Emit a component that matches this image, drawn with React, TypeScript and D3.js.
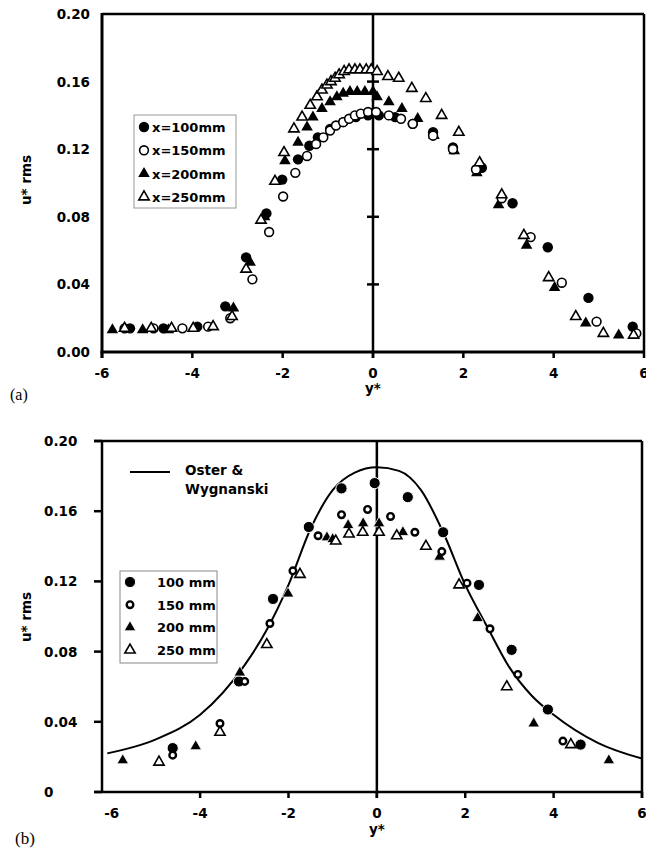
import React, { useEffect, useRef } from 'react';
import * as d3 from 'd3';

type Pt = [number, number]; // [y*, u*rms]

// ---- panel (a) ----
const a100: Pt[] = [
  [-5.38, 0.014], [-4.64, 0.014], [-3.89, 0.015], [-3.27, 0.027], [-2.81, 0.056], [-2.36, 0.082],
  [-2.01, 0.102], [-1.66, 0.114], [-1.41, 0.122], [-1.22, 0.127], [-0.95, 0.132], [-0.66, 0.136],
  [-0.38, 0.139], [-0.11, 0.140], [0.13, 0.140], [0.49, 0.139], [0.88, 0.135], [1.33, 0.130],
  [1.77, 0.121], [2.41, 0.109], [3.09, 0.088], [3.87, 0.062], [4.77, 0.032], [5.75, 0.015],
];
const a150: Pt[] = [
  [-5.5, 0.014], [-4.86, 0.014], [-4.22, 0.014], [-3.65, 0.015], [-3.16, 0.020], [-2.67, 0.043],
  [-2.30, 0.071], [-1.99, 0.092], [-1.72, 0.106], [-1.46, 0.116], [-1.26, 0.123], [-1.10, 0.127],
  [-0.95, 0.131], [-0.82, 0.134], [-0.66, 0.136], [-0.53, 0.138], [-0.40, 0.140], [-0.27, 0.141],
  [-0.11, 0.142], [0.07, 0.142], [0.35, 0.140], [0.62, 0.138], [0.88, 0.135], [1.33, 0.128],
  [1.77, 0.120], [2.28, 0.108], [2.85, 0.091], [3.49, 0.068], [4.18, 0.041], [4.95, 0.018], [5.83, 0.011],
];
const a200: Pt[] = [
  [-5.77, 0.013], [-5.10, 0.013], [-4.53, 0.013], [-3.09, 0.026], [-2.72, 0.053], [-2.40, 0.080],
  [-1.95, 0.113], [-1.66, 0.124], [-1.46, 0.133], [-1.33, 0.139], [-1.13, 0.144], [-0.95, 0.148],
  [-0.80, 0.151], [-0.66, 0.153], [-0.51, 0.154], [-0.35, 0.154], [-0.18, 0.154], [0.0, 0.154],
  [0.09, 0.151], [0.35, 0.148], [0.64, 0.144], [0.99, 0.138], [1.35, 0.128], [1.80, 0.119],
  [2.30, 0.106], [2.78, 0.087], [3.40, 0.063], [4.02, 0.038], [4.71, 0.017], [5.44, 0.010],
];
const a250: Pt[] = [
  [-5.50, 0.014], [-4.91, 0.014], [-4.46, 0.014], [-3.98, 0.014], [-3.54, 0.015], [-3.12, 0.021],
  [-2.81, 0.049], [-2.48, 0.078], [-2.17, 0.101], [-1.97, 0.118], [-1.75, 0.132], [-1.57, 0.139],
  [-1.39, 0.146], [-1.24, 0.151], [-1.13, 0.155], [-1.02, 0.158], [-0.93, 0.160], [-0.84, 0.162],
  [-0.75, 0.164], [-0.64, 0.166], [-0.53, 0.167], [-0.40, 0.167], [-0.29, 0.167], [-0.15, 0.167],
  [-0.04, 0.167], [0.09, 0.166], [0.33, 0.163], [0.57, 0.162], [0.86, 0.156], [1.17, 0.150],
  [1.52, 0.140], [1.90, 0.130], [2.36, 0.112], [2.85, 0.093], [3.34, 0.069], [3.89, 0.044],
  [4.49, 0.021], [5.10, 0.011], [5.77, 0.010],
];

// ---- panel (b) ----
const b100: Pt[] = [
  [-4.62, 0.025], [-3.12, 0.063], [-2.35, 0.110], [-1.54, 0.151], [-0.80, 0.173], [-0.05, 0.176],
  [0.70, 0.168], [1.50, 0.148], [2.31, 0.118], [3.05, 0.081], [3.87, 0.047], [4.61, 0.027],
];
const b150: Pt[] = [
  [-4.62, 0.021], [-3.55, 0.039], [-2.99, 0.063], [-2.42, 0.096], [-1.90, 0.126], [-1.33, 0.146],
  [-0.80, 0.158], [-0.21, 0.161], [0.31, 0.157], [0.86, 0.148], [1.47, 0.137], [2.04, 0.119],
  [2.56, 0.093], [3.19, 0.067], [4.21, 0.029],
];
const b200: Pt[] = [
  [-5.75, 0.018], [-4.10, 0.026], [-3.10, 0.068], [-2.01, 0.113], [-1.13, 0.145], [-1.00, 0.144],
  [-0.65, 0.152], [-0.31, 0.153], [0.05, 0.153], [0.59, 0.148], [1.42, 0.134], [2.28, 0.099],
  [3.55, 0.039], [5.25, 0.018],
];
const b250: Pt[] = [
  [-4.93, 0.017], [-3.55, 0.034], [-2.49, 0.084], [-1.74, 0.124], [-0.93, 0.143], [-0.63, 0.147],
  [-0.32, 0.148], [0.05, 0.148], [0.45, 0.146], [1.11, 0.140], [1.86, 0.118], [2.94, 0.060], [4.39, 0.027],
];
// Oster & Wygnanski curve
const oster: Pt[] = [
  [-6.1, 0.022], [-5, 0.030], [-4, 0.044], [-3, 0.072], [-2.5, 0.092], [-2, 0.118], [-1.5, 0.150],
  [-1, 0.172], [-0.5, 0.182], [0, 0.185], [0.5, 0.183], [1, 0.172], [1.5, 0.148], [2, 0.118],
  [2.5, 0.094], [3, 0.071], [3.5, 0.055], [4, 0.044], [5, 0.028], [6, 0.019],
];

const xTicks = [-6, -4, -2, 0, 2, 4, 6];
const yTicks = [0, 0.04, 0.08, 0.12, 0.16, 0.2];
const yLabelsA = ['0.00', '0.04', '0.08', '0.12', '0.16', '0.20'];
const yLabelsB = ['0', '0.04', '0.08', '0.12', '0.16', '0.20'];
const legendA = ['x=100mm', 'x=150mm', 'x=200mm', 'x=250mm'];
const legendB = ['100 mm', '150 mm', '200 mm', '250 mm'];
const kinds = ['dot', 'circle', 'tri', 'otri'];

const FONT = "'DejaVu Sans', Verdana, sans-serif";
const FS = 13.5;

type G = d3.Selection<SVGGElement, unknown, null, undefined>;

// one marker glyph; small = panel (b) style open circle
function glyph(g: G, kind: string, cx: number, cy: number, small: boolean) {
  const t = `translate(${cx},${cy})`;
  if (kind === 'dot') {
    g.append('circle').attr('cx', cx).attr('cy', cy).attr('r', small ? 5.6 : 5.2)
      .attr('fill', '#000').attr('stroke', small ? '#fff' : 'none').attr('stroke-width', 1);
  } else if (kind === 'circle') {
    g.append('circle').attr('cx', cx).attr('cy', cy).attr('r', small ? 3.3 : 4.4)
      .attr('fill', '#fff').attr('stroke', '#000').attr('stroke-width', small ? 2.4 : 1.6);
  } else if (kind === 'tri') {
    g.append('path').attr('transform', t).attr('d', d3.symbol(d3.symbolTriangle, 58)())
      .attr('fill', '#000').attr('stroke', small ? '#fff' : 'none').attr('stroke-width', 0.8);
  } else {
    g.append('path').attr('transform', t).attr('d', d3.symbol(d3.symbolTriangle, 46)())
      .attr('fill', '#fff').attr('stroke', '#000').attr('stroke-width', 1.6);
  }
}

const App: React.FC = () => {
  const ref = useRef<SVGSVGElement | null>(null);

  useEffect(() => {
    const svg = d3.select(ref.current);
    svg.selectAll('*').remove();
    const root = svg.append('g') as unknown as G;

    // ================= panel (a) =================
    const xa = d3.scaleLinear().domain([-6, 6]).range([102, 644]);
    const ya = d3.scaleLinear().domain([0, 0.2]).range([352, 14]);
    const ga = root.append('g');

    // y tick labels (right aligned)
    yTicks.forEach((v, i) => {
      ga.append('text').attr('x', 90).attr('y', ya(v) + 5).attr('text-anchor', 'end')
        .attr('font-family', FONT).attr('font-weight', 'bold').attr('font-size', FS)
        .text(yLabelsA[i]);
    });
    // x ticks + labels
    xTicks.forEach((v) => {
      ga.append('line').attr('x1', xa(v)).attr('x2', xa(v)).attr('y1', 352).attr('y2', 358)
        .attr('stroke', '#000').attr('stroke-width', 2.5);
      ga.append('text').attr('x', xa(v)).attr('y', 378).attr('text-anchor', 'middle')
        .attr('font-family', FONT).attr('font-weight', 'bold').attr('font-size', FS)
        .text(String(v));
    });
    // frame
    ga.append('line').attr('x1', 102).attr('x2', 644).attr('y1', 14).attr('y2', 14)
      .attr('stroke', '#000').attr('stroke-width', 2.5);
    ga.append('line').attr('x1', 644).attr('x2', 644).attr('y1', 14).attr('y2', 352)
      .attr('stroke', '#000').attr('stroke-width', 2.5);
    ga.append('line').attr('x1', 102).attr('x2', 102).attr('y1', 13).attr('y2', 358)
      .attr('stroke', '#000').attr('stroke-width', 3);
    ga.append('line').attr('x1', 100.5).attr('x2', 645).attr('y1', 352).attr('y2', 352)
      .attr('stroke', '#000').attr('stroke-width', 3);
    // zero line with cross ticks
    ga.append('line').attr('x1', xa(0)).attr('x2', xa(0)).attr('y1', 14).attr('y2', 358)
      .attr('stroke', '#000').attr('stroke-width', 2.5);
    yTicks.slice(1, 5).forEach((v) => {
      ga.append('line').attr('x1', xa(0) - 6).attr('x2', xa(0) + 6).attr('y1', ya(v)).attr('y2', ya(v))
        .attr('stroke', '#000').attr('stroke-width', 2.5);
    });

    // data
    const marksA = ga.append('g') as unknown as G;
    [a100, a200, a150, a250].forEach((s, i) => {
      const k = ['dot', 'tri', 'circle', 'otri'][i];
      s.forEach((d) => glyph(marksA, k, xa(d[0]), ya(d[1]), false));
    });

    // legend (a)
    ga.append('rect').attr('x', 134).attr('y', 115).attr('width', 102).attr('height', 93)
      .attr('fill', '#fff').attr('stroke', '#999').attr('stroke-width', 1);
    const legA = ga.append('g') as unknown as G;
    legendA.forEach((name, i) => {
      const cy = 127 + i * 23.3;
      glyph(legA, kinds[i], 144, cy, false);
      legA.append('text').attr('x', 152).attr('y', cy + 5)
        .attr('font-family', FONT).attr('font-weight', 'bold').attr('font-size', 13).text(name);
    });

    // titles
    ga.append('text').attr('transform', 'translate(31,180) rotate(-90)').attr('text-anchor', 'middle')
      .attr('font-family', FONT).attr('font-weight', 'bold').attr('font-size', FS).text('u* rms');
    ga.append('text').attr('x', xa(0)).attr('y', 393).attr('text-anchor', 'middle')
      .attr('font-family', FONT).attr('font-weight', 'bold').attr('font-size', FS).text('y*');
    ga.append('text').attr('x', 10).attr('y', 400)
      .attr('font-family', "'Liberation Serif', 'Times New Roman', serif").attr('font-size', 16).text('(a)');

    // ================= panel (b) =================
    const xb = d3.scaleLinear().domain([-6.22, 6]).range([102, 642]);
    const yb = d3.scaleLinear().domain([0, 0.2]).range([792, 441]);
    const gb = root.append('g');

    gb.append('clipPath').attr('id', 'clipB').append('rect')
      .attr('x', 102).attr('y', 441).attr('width', 540).attr('height', 351);

    yTicks.forEach((v, i) => {
      gb.append('line').attr('x1', 94).attr('x2', 102).attr('y1', yb(v)).attr('y2', yb(v))
        .attr('stroke', '#000').attr('stroke-width', 2.5);
      gb.append('text').attr('x', 44).attr('y', yb(v) + 5).attr('text-anchor', 'start')
        .attr('font-family', FONT).attr('font-weight', 'bold').attr('font-size', FS)
        .text(yLabelsB[i]);
    });
    xTicks.forEach((v) => {
      if (v > -6) {
        gb.append('line').attr('x1', xb(v)).attr('x2', xb(v)).attr('y1', 792).attr('y2', 798)
          .attr('stroke', '#000').attr('stroke-width', 2.5);
      }
      gb.append('text').attr('x', xb(v)).attr('y', 818).attr('text-anchor', 'middle')
        .attr('font-family', FONT).attr('font-weight', 'bold').attr('font-size', FS)
        .text(String(v));
    });
    gb.append('line').attr('x1', 94).attr('x2', 642).attr('y1', 441).attr('y2', 441)
      .attr('stroke', '#000').attr('stroke-width', 2.5);
    gb.append('line').attr('x1', 642).attr('x2', 642).attr('y1', 441).attr('y2', 798)
      .attr('stroke', '#000').attr('stroke-width', 2.5);
    gb.append('line').attr('x1', 102).attr('x2', 102).attr('y1', 440).attr('y2', 793)
      .attr('stroke', '#000').attr('stroke-width', 2.5);
    gb.append('line').attr('x1', 94).attr('x2', 643).attr('y1', 792).attr('y2', 792)
      .attr('stroke', '#000').attr('stroke-width', 2.5);
    gb.append('line').attr('x1', xb(0)).attr('x2', xb(0)).attr('y1', 441).attr('y2', 798)
      .attr('stroke', '#000').attr('stroke-width', 2.5);

    // Oster & Wygnanski curve
    const line = d3.line<Pt>().x((d) => xb(d[0])).y((d) => yb(d[1])).curve(d3.curveMonotoneX);
    gb.append('path').attr('d', line(oster)).attr('fill', 'none').attr('stroke', '#000')
      .attr('stroke-width', 2).attr('clip-path', 'url(#clipB)');

    const marksB = gb.append('g') as unknown as G;
    [b100, b200, b150, b250].forEach((s, i) => {
      const k = ['dot', 'tri', 'circle', 'otri'][i];
      s.forEach((d) => glyph(marksB, k, xb(d[0]), yb(d[1]), true));
    });

    // legend (b)
    gb.append('line').attr('x1', 130).attr('x2', 170).attr('y1', 472).attr('y2', 472)
      .attr('stroke', '#000').attr('stroke-width', 2);
    gb.append('text').attr('x', 185).attr('y', 475)
      .attr('font-family', FONT).attr('font-weight', 'bold').attr('font-size', FS).text('Oster &');
    gb.append('text').attr('x', 185).attr('y', 494)
      .attr('font-family', FONT).attr('font-weight', 'bold').attr('font-size', FS).text('Wygnanski');

    gb.append('rect').attr('x', 120).attr('y', 571).attr('width', 97).attr('height', 92)
      .attr('fill', '#fff').attr('stroke', '#888').attr('stroke-width', 1);
    const legB = gb.append('g') as unknown as G;
    legendB.forEach((name, i) => {
      const cy = 582 + i * 22.7;
      glyph(legB, kinds[i], 130, cy, true);
      legB.append('text').attr('x', 157).attr('y', cy + 5)
        .attr('font-family', FONT).attr('font-weight', 'bold').attr('font-size', 13).text(name);
    });

    gb.append('text').attr('transform', 'translate(31,617) rotate(-90)').attr('text-anchor', 'middle')
      .attr('font-family', FONT).attr('font-weight', 'bold').attr('font-size', FS).text('u* rms');
    gb.append('text').attr('x', xb(0)).attr('y', 834).attr('text-anchor', 'middle')
      .attr('font-family', FONT).attr('font-weight', 'bold').attr('font-size', FS).text('y*');
    gb.append('text').attr('x', 15).attr('y', 844)
      .attr('font-family', "'Liberation Serif', 'Times New Roman', serif").attr('font-size', 17).text('(b)');
  }, []);

  return (
    <svg
      ref={ref}
      width={646}
      height={850}
      style={{ position: 'absolute', left: 0, top: 0, background: '#fff' }}
    />
  );
};

export default App;
